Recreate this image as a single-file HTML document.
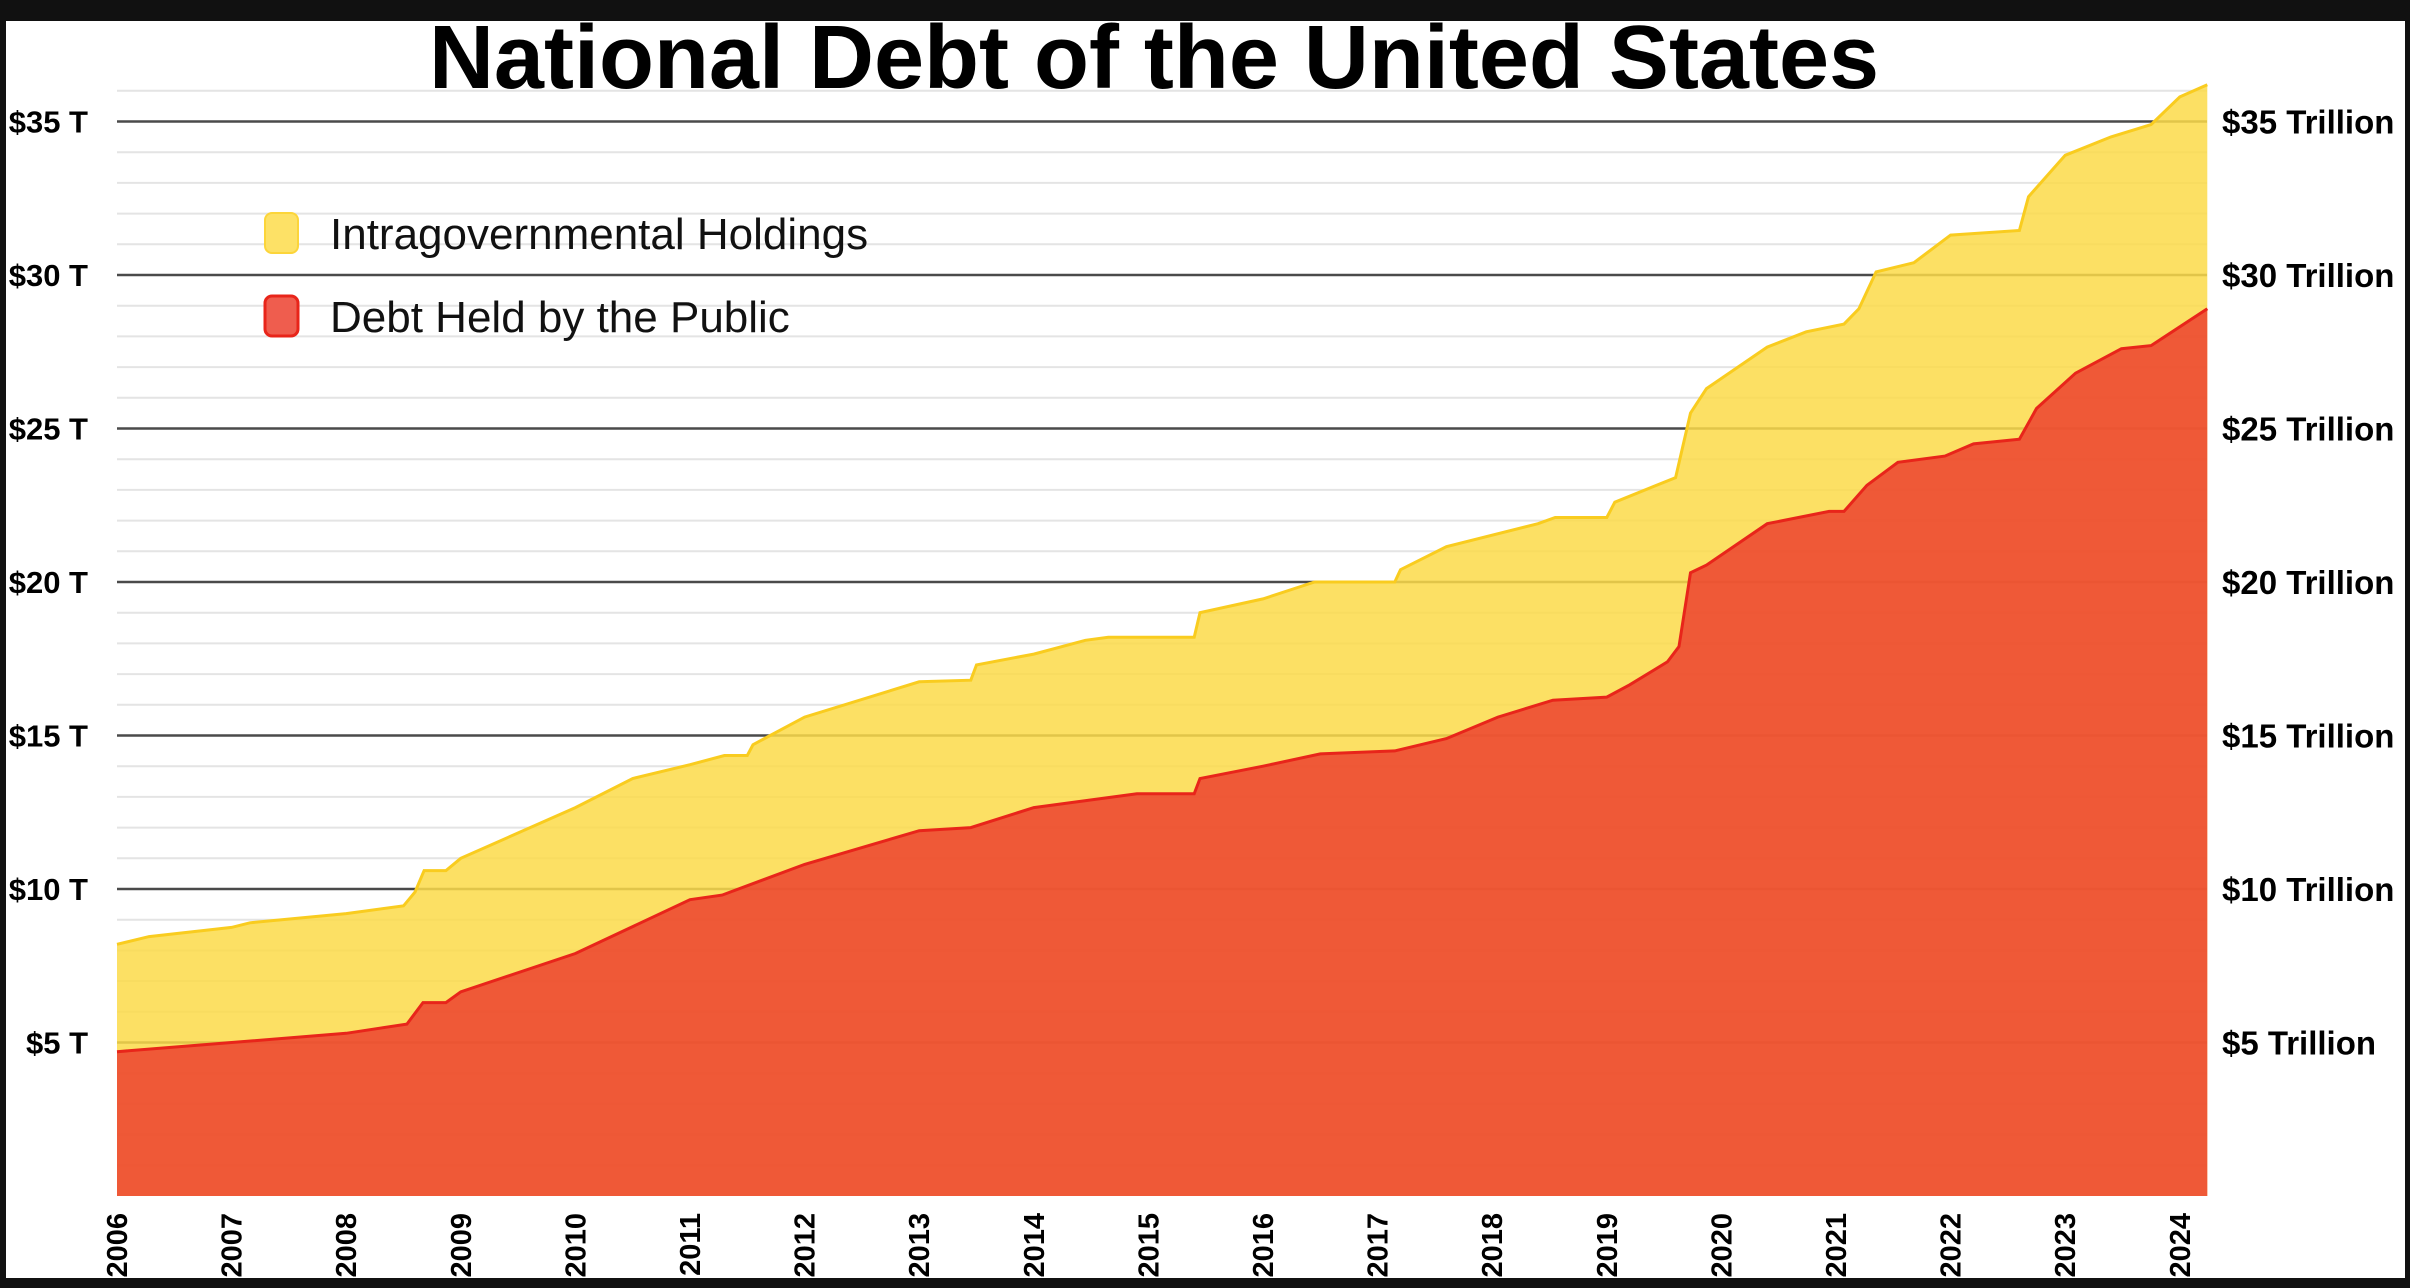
<!DOCTYPE html>
<html><head><meta charset="utf-8"><style>
html,body{margin:0;padding:0;background:#111;}
svg{display:block;font-family:"Liberation Sans",Arial,sans-serif;}
</style></head><body>
<svg id="chart" width="2410" height="1288" viewBox="0 0 2410 1288" xmlns="http://www.w3.org/2000/svg">
<rect x="0" y="0" width="2410" height="1288" fill="#111"/>
<rect x="6" y="21" width="2399" height="1257" fill="#fff"/>
<g id="grid"></g>
<g id="areas"></g>
<g id="yleft"></g>
<g id="yright"></g>
<g id="xaxis"></g>
<text x="1154" y="88" text-anchor="middle" font-size="90" font-weight="bold" fill="#000">National Debt of the United States</text>
<g>
<g>
<rect x="265" y="213" width="33" height="40" rx="7" fill="#fde166" stroke="#fcd53a" stroke-width="2"/>
<text x="330" y="249" font-size="44" fill="#111">Intragovernmental Holdings</text>
</g>
<g>
<rect x="265" y="296" width="33" height="40" rx="7" fill="#ef5d4e" stroke="#e8251a" stroke-width="3"/>
<text x="330" y="332" font-size="44" fill="#111">Debt Held by the Public</text>
</g>
</g>
</svg>
<script>
const totalT = [2006.0,2006.28,2007.0,2007.16,2008.0,2008.5,2008.6,2008.68,2008.87,2009.0,2010.0,2010.5,2011.0,2011.3,2011.5,2011.55,2012.0,2013.0,2013.45,2013.5,2014.0,2014.45,2014.65,2015.4,2015.45,2016.0,2016.45,2016.75,2017.15,2017.2,2017.6,2018.4,2018.55,2019.0,2019.07,2019.6,2019.73,2019.87,2020.4,2020.74,2021.07,2021.2,2021.35,2021.68,2022.0,2022.6,2022.68,2023.0,2023.4,2023.75,2024.0,2024.24];
const totalV = [8.2,8.45,8.75,8.9,9.2,9.45,9.9,10.6,10.6,11.0,12.65,13.6,14.05,14.35,14.35,14.7,15.6,16.75,16.8,17.3,17.65,18.1,18.2,18.2,19.0,19.45,20.0,20.0,20.0,20.4,21.15,21.9,22.1,22.1,22.6,23.4,25.5,26.3,27.65,28.15,28.4,28.9,30.1,30.4,31.3,31.45,32.55,33.9,34.5,34.9,35.8,36.2];
const publicT = [2006.0,2007.0,2008.0,2008.53,2008.67,2008.87,2009.0,2010.0,2011.0,2011.28,2012.0,2013.0,2013.45,2014.0,2014.9,2015.4,2015.45,2016.0,2016.5,2017.15,2017.6,2018.05,2018.53,2019.0,2019.2,2019.53,2019.63,2019.73,2019.87,2020.4,2020.94,2021.07,2021.27,2021.54,2021.95,2022.2,2022.6,2022.75,2023.09,2023.49,2023.75,2024.24];
const publicV = [4.7,5.0,5.3,5.6,6.3,6.3,6.65,7.9,9.65,9.8,10.8,11.9,12.0,12.65,13.1,13.1,13.6,14.0,14.4,14.5,14.9,15.6,16.15,16.25,16.65,17.4,17.9,20.3,20.55,21.9,22.3,22.3,23.15,23.9,24.1,24.5,24.65,25.65,26.8,27.6,27.7,28.9];
const years = [2006,2007,2008,2009,2010,2011,2012,2013,2014,2015,2016,2017,2018,2019,2020,2021,2022,2023,2024];
const majorTicks = [5,10,15,20,25,30,35];
const leftTickLabels = ["$5 T","$10 T","$15 T","$20 T","$25 T","$30 T","$35 T"];
const rightTickLabels = ["$5 Trillion","$10 Trillion","$15 Trillion","$20 Trillion","$25 Trillion","$30 Trillion","$35 Trillion"];

const NS = "http://www.w3.org/2000/svg";
const X0 = 117, XPY = 114.6, Y0 = 1196, YPT = 30.7, XEND = 2207;
function xs(t){ return X0 + (t - 2006) * XPY; }
function ys(v){ return Y0 - v * YPT; }
function mk(tag, attrs, parent){
  const e = document.createElementNS(NS, tag);
  for (const k in attrs) e.setAttribute(k, attrs[k]);
  parent.appendChild(e);
  return e;
}
const grid = document.getElementById('grid');
for (let v = 1; v <= 36; v++) {
  if (v % 5 === 0) continue;
  const l = mk('line', {x1: X0, x2: XEND, y1: ys(v), y2: ys(v), stroke: '#e4e4e4', 'stroke-width': 2}, grid);
  
  
}
majorTicks.forEach(v => {
  const l = mk('line', {x1: X0, x2: XEND, y1: ys(v), y2: ys(v), stroke: '#4a4a4a', 'stroke-width': 2.5}, grid);
  
  
});

const areas = document.getElementById('areas');
function areaPath(T, V){
  let d = 'M' + xs(T[0]) + ',' + ys(0);
  for (let i = 0; i < T.length; i++) d += ' L' + xs(T[i]).toFixed(1) + ',' + ys(V[i]).toFixed(1);
  d += ' L' + xs(T[T.length-1]) + ',' + ys(0) + ' Z';
  return d;
}
function linePath(T, V){
  let d = '';
  for (let i = 0; i < T.length; i++) d += (i ? ' L' : 'M') + xs(T[i]).toFixed(1) + ',' + ys(V[i]).toFixed(1);
  return d;
}
const ya = mk('path', {d: areaPath(totalT, totalV), fill: '#fcdb49', 'fill-opacity': 0.85}, areas);


const yl = mk('path', {d: linePath(totalT, totalV), fill: 'none', stroke: '#f9cc1f', 'stroke-width': 3}, areas);


const ra = mk('path', {d: areaPath(publicT, publicV), fill: '#ec412f', 'fill-opacity': 0.85}, areas);


const rl = mk('path', {d: linePath(publicT, publicV), fill: 'none', stroke: '#e8251a', 'stroke-width': 3}, areas);



const yleft = document.getElementById('yleft');
const yright = document.getElementById('yright');
majorTicks.forEach((v, i) => {
  const t = mk('text', {x: 88, y: ys(v) + 11, 'text-anchor': 'end', 'font-size': 31, 'font-weight': 'bold', fill: '#000'}, yleft);
  t.textContent = leftTickLabels[i];
  
  
  const r = mk('text', {x: 2222, y: ys(v) + 12, 'font-size': 33, 'font-weight': 'bold', fill: '#000'}, yright);
  r.textContent = rightTickLabels[i];
  
  
});

const xaxis = document.getElementById('xaxis');
years.forEach(yr => {
  const x = xs(yr);
  const t = mk('text', {x: x, y: 1213, 'text-anchor': 'end', 'font-size': 29, 'font-weight': 'bold', fill: '#000', transform: 'rotate(-90 ' + x + ' 1213)', dy: '10'}, xaxis);
  t.textContent = String(yr);
  
  
});
</script>
</body></html>
